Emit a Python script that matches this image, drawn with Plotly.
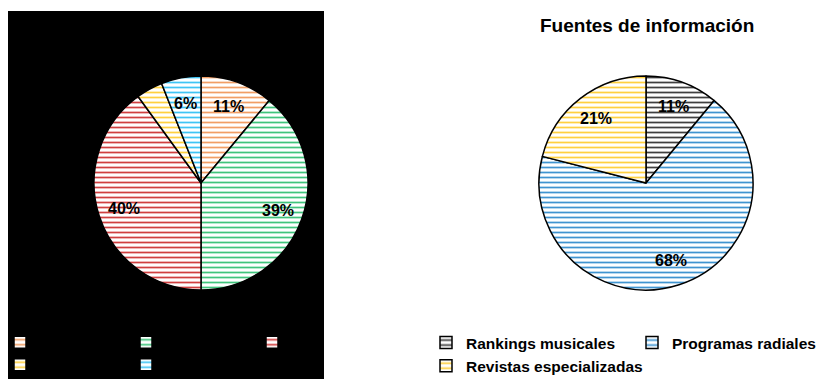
import math
import plotly.graph_objects as go

W, H = 819, 379

# Left chart (dark panel)
left_labels = ["Pop", "Rock", "Rap", "Jazz", "Otros"]
left_values = [11, 39, 40, 4, 6]
left_colors = ["#ED7D31", "#00B050", "#C00000", "#FFC000", "#00B0F0"]
left_show = [True, True, True, False, True]

# Right chart
right_title = "Fuentes de información"
right_labels = ["Rankings musicales", "Programas radiales", "Revistas especializadas"]
right_values = [11, 68, 21]
right_colors = ["#000000", "#0070C0", "#FFC000"]
right_show = [True, True, True]

# plot area in pixels (margins fixed, no auto-expansion)
ML, MR = 94, 66
GW = W - ML - MR

# pie geometry in pixels: centre x, centre y, radius
LEFT_PIE = (201, 183, 107)
RIGHT_PIE = (646, 183, 107)
FONT = "Liberation Sans, Arial, sans-serif"


def px_x(x):
    return (x - ML) / GW


def px_y(y):
    return 1 - y / H


def domain(cx, cy, r):
    return dict(x=[px_x(cx - r), px_x(cx + r)], y=[px_y(cy + r), px_y(cy - r)])


def pie(labels, values, colors, geom, legend):
    return go.Pie(
        labels=labels,
        values=values,
        sort=False,
        direction="clockwise",
        rotation=0,
        textinfo="none",
        hoverinfo="label+percent",
        domain=domain(*geom),
        legend=legend,
        marker=dict(
            colors=colors,
            line=dict(color="black", width=1.5),
            pattern=dict(
                shape="-",
                fgcolor=colors,
                bgcolor="white",
                fgopacity=0.75,
                size=5,
                solidity=0.35,
            ),
        ),
    )


def pct_labels(values, show, geom, k=0.76):
    cx, cy, r = geom
    total = sum(values)
    notes = []
    acc = 0
    for v, s in zip(values, show):
        mid = (acc + v / 2) / total * 2 * math.pi
        acc += v
        if not s:
            continue
        notes.append(dict(
            x=px_x(cx + k * r * math.sin(mid)), y=px_y(cy - k * r * math.cos(mid)),
            xref="paper", yref="paper",
            text="<b>%d%%</b>" % round(v / total * 100),
            showarrow=False, font=dict(family=FONT, size=16, color="black"),
            xanchor="center", yanchor="middle",
        ))
    return notes


fig = go.Figure()
fig.add_trace(pie(left_labels, left_values, left_colors, LEFT_PIE, "legend"))
fig.add_trace(pie(right_labels, right_values, right_colors, RIGHT_PIE, "legend2"))

annotations = pct_labels(left_values, left_show, LEFT_PIE) + pct_labels(right_values, right_show, RIGHT_PIE)
annotations.append(dict(
    x=px_x(647), y=px_y(25), xref="paper", yref="paper",
    text="<b>%s</b>" % right_title, showarrow=False,
    font=dict(family=FONT, size=19, color="black"),
    xanchor="center", yanchor="middle",
))

legend_font = dict(family=FONT, size=15, color="black")
legend_top = px_y(326)

fig.update_layout(
    width=W,
    height=H,
    margin=dict(l=ML, r=MR, t=0, b=0, autoexpand=False),
    paper_bgcolor="white",
    plot_bgcolor="white",
    showlegend=True,
    shapes=[dict(
        type="rect", xref="paper", yref="paper",
        x0=px_x(8), x1=px_x(324), y0=px_y(379), y1=px_y(11),
        fillcolor="black", line=dict(width=0), layer="below",
    )],
    annotations=annotations,
    legend=dict(
        orientation="h", x=px_x(0), xanchor="left", y=legend_top, yanchor="top",
        entrywidth=81, entrywidthmode="pixels",
        font=legend_font, bgcolor="rgba(0,0,0,0)", traceorder="normal",
    ),
    legend2=dict(
        orientation="h", x=px_x(426 + 412), xanchor="right", y=legend_top, yanchor="top",
        entrywidth=161, entrywidthmode="pixels",
        font=dict(family=FONT, size=15.5, color="black", weight="bold"),
        bgcolor="rgba(0,0,0,0)", traceorder="normal",
    ),
)

fig.write_html("out.html")
